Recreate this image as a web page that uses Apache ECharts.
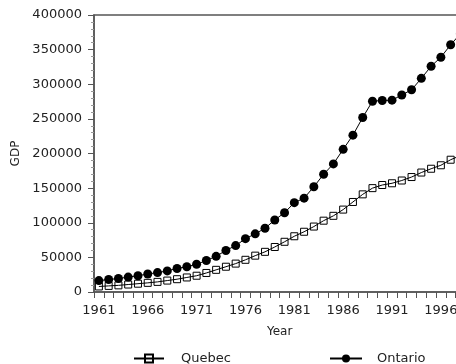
<!DOCTYPE html>
<html>
<head>
<meta charset="utf-8">
<script src="https://cdn.jsdelivr.net/npm/echarts@6/dist/echarts.min.js"></script>
<style>
html,body{margin:0;padding:0;background:#fff;}
#chart{width:456px;height:364px;}
</style>
</head>
<body>
<div id="chart"></div>
<script>
var years = ['1961','1962','1963','1964','1965','1966','1967','1968','1969','1970',
  '1971','1972','1973','1974','1975','1976','1977','1978','1979','1980',
  '1981','1982','1983','1984','1985','1986','1987','1988','1989','1990',
  '1991','1992','1993','1994','1995','1996','1997','1998'];
var quebec = [8000,8800,9600,10800,12000,13200,14600,16500,18500,21000,
  23500,27500,32000,36500,41000,46500,52500,58000,65000,72500,
  80500,87000,94500,103000,110000,119000,130000,141000,150000,154500,
  157000,161000,166000,172500,178000,183000,191000,197000];
var ontario = [16500,18000,19500,21500,23500,26000,28000,30500,34000,36500,
  40000,45500,51500,60000,67000,77000,84000,92000,104000,114500,
  129000,135500,152000,170000,185000,206000,226500,252000,275500,276500,
  277000,284500,292000,308500,326000,339000,357000,373000];
var yTicks = {min:0, max:400000, interval:50000};

var font = 'DejaVu Sans';
var chart = echarts.init(document.getElementById('chart'), null, {renderer:'canvas'});
chart.setOption({
  animation:false,
  backgroundColor:'#fff',
  grid:{left:94, top:15, bottom:72, right:-9.3, containLabel:false, outerBoundsMode:'none',
    show:true, borderColor:'#555', borderWidth:1.5, backgroundColor:'transparent'},
  legend:[
    {data:['Quebec'], left:128, top:347, itemWidth:30, itemHeight:10,
      textStyle:{fontFamily:font, fontSize:13, color:'#222', padding:[0,0,0,12]}},
    {data:['Ontario'], left:324, top:347, itemWidth:32, itemHeight:10,
      textStyle:{fontFamily:font, fontSize:13, color:'#222', padding:[0,0,0,10]}}
  ],
  xAxis:{
    type:'category', data:years, boundaryGap:true,
    name:'Year', nameLocation:'middle', nameGap:34,
    nameTextStyle:{fontFamily:font, fontSize:12, color:'#222'},
    axisLine:{lineStyle:{color:'#555', width:1.5}},
    axisTick:{show:true, interval:0, length:6, lineStyle:{color:'#555'}},
    axisLabel:{interval:4, margin:12, fontFamily:font, fontSize:13, color:'#222'},
    splitLine:{show:false}
  },
  yAxis:{
    type:'value', min:yTicks.min, max:yTicks.max, interval:yTicks.interval,
    name:'GDP', nameLocation:'middle', nameGap:50, nameRotate:90,
    nameTextStyle:{fontFamily:font, fontSize:12, color:'#222'},
    axisLine:{show:true, lineStyle:{color:'#555', width:1.5}},
    axisTick:{show:true, length:6, lineStyle:{color:'#555'}},
    minorTick:{show:true, splitNumber:5, length:3, lineStyle:{color:'#999'}},
    axisLabel:{margin:12, fontFamily:font, fontSize:13, color:'#222',
      formatter:function(v){return String(v);}},
    splitLine:{show:false}
  },
  series:[
    {name:'Quebec', type:'line', data:quebec, symbol:'rect', symbolSize:7, showAllSymbol:true,
      itemStyle:{color:'rgba(255,255,255,0)', borderColor:'#000', borderWidth:1},
      lineStyle:{color:'#000', width:1}, z:2},
    {name:'Ontario', type:'line', data:ontario, symbol:'circle', symbolSize:9, showAllSymbol:true,
      itemStyle:{color:'#000'}, lineStyle:{color:'#000', width:1}, z:3}
  ]
});
</script>
</body>
</html>
